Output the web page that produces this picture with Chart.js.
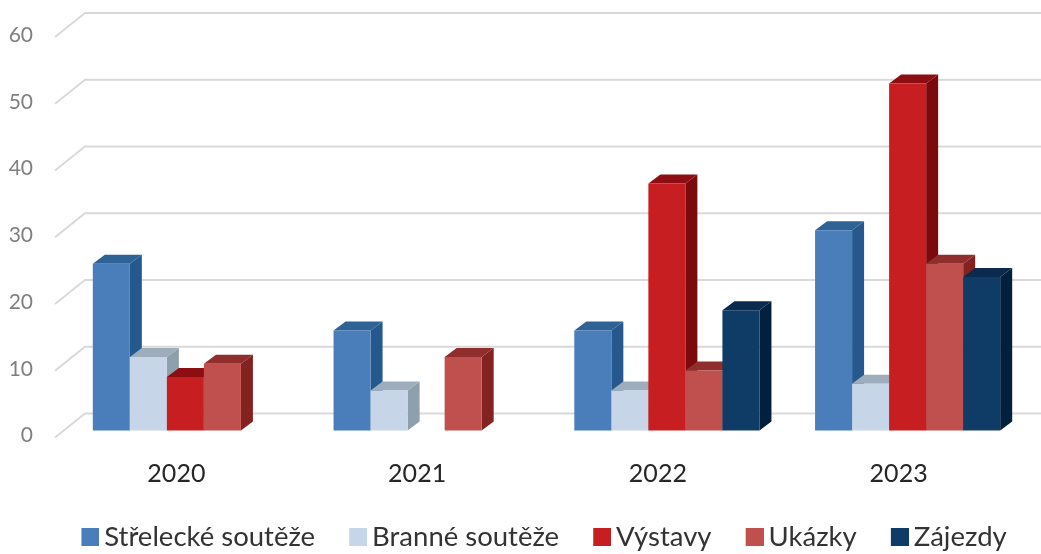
<!DOCTYPE html>
<html><head><meta charset="utf-8">
<style>html,body{margin:0;padding:0;background:#fff}canvas{display:block}</style>
<script src="https://cdn.jsdelivr.net/npm/chart.js@4"></script>
</head><body><canvas id="c" width="1041" height="554"></canvas>
<script>
const categories = ['2020','2021','2022','2023'];
const strelecke = [25,15,15,30];
const branne = [11,6,6,7];
const vystavy = [8,null,37,52];
const ukazky = [10,11,9,25];
const zajezdy = [null,null,18,23];
const yTicks = [0,10,20,30,40,50,60];
const names = ['Střelecké soutěže','Branné soutěže','Výstavy','Ukázky','Zájezdy'];
const frontColors = ['#4a7ebb','#c6d6e8','#c71e22','#c0504d','#0f3c66'];
const sideColors = ['#25588d','#8e9fae','#7b0a0c','#84221f','#031f3e'];
const topColors = ['#2f6295','#9dadbb','#8c0e12','#8f2e2c','#0a2b4d'];

const DX = 12, DY = 9;           // extrusion of each bar
const WX = 30, WY = 17;          // floor/wall offset relative to the front plane
const LEGEND_SHIFT = 30;
function swatch(color){
  const k = document.createElement('canvas'); k.width = 27; k.height = 18;
  const g = k.getContext('2d'); g.fillStyle = color; g.fillRect(9,0,18,18); return k;
}
const depth3d = {
  id:'depth3d',
  afterLayout(chart){ chart.legend.left += LEGEND_SHIFT; chart.legend.right += LEGEND_SHIFT; },
  beforeDatasetsDraw(chart){
    const {ctx, scales:{y}, width} = chart;
    ctx.save(); ctx.strokeStyle = '#d9d9d9'; ctx.lineWidth = 2;
    yTicks.forEach(v=>{
      const py = y.getPixelForValue(v);
      const xa = y.right - 10, ya = py + 7, xb = xa + WX;
      ctx.beginPath(); ctx.moveTo(xa, ya); ctx.lineTo(xb, py - WY); ctx.lineTo(width, py - WY); ctx.stroke();
    });
    ctx.restore();
  },
  beforeDatasetDraw(){ return false; },
  afterDatasetsDraw(chart){
    const {ctx} = chart;
    chart.data.datasets.forEach((ds,i)=>{
      const meta = chart.getDatasetMeta(i);
      meta.data.forEach((el,j)=>{
        if (ds.data[j] == null) return;
        const {x,y,base,width} = el.getProps(['x','y','base','width'], true);
        const l = x - width/2, r = x + width/2;
        ctx.fillStyle = sideColors[i];
        ctx.beginPath(); ctx.moveTo(r,y); ctx.lineTo(r+DX,y-DY); ctx.lineTo(r+DX,base-DY); ctx.lineTo(r,base); ctx.closePath(); ctx.fill();
        ctx.fillStyle = topColors[i];
        ctx.beginPath(); ctx.moveTo(l,y); ctx.lineTo(l+DX,y-DY); ctx.lineTo(r+DX,y-DY); ctx.lineTo(r,y); ctx.closePath(); ctx.fill();
        el.draw(ctx);
      });
    });
  }
};
const series = [strelecke,branne,vystavy,ukazky,zajezdy];
new Chart(document.getElementById('c'),{
  type:'bar',
  data:{labels:categories,datasets:series.map((d,i)=>({
    label:names[i],data:d,backgroundColor:frontColors[i],pointStyle:swatch(frontColors[i]),borderWidth:0
  }))},
  plugins:[depth3d],
  options:{
    responsive:false,animation:false,
    layout:{padding:{top:30,right:13,bottom:-7,left:0}},
    datasets:{bar:{categoryPercentage:0.769,barPercentage:1}},
    plugins:{
      tooltip:{enabled:false},
      legend:{position:'bottom',labels:{
        usePointStyle:true,pointStyleWidth:9.25,boxHeight:18,padding:34,
        color:'#333333',font:{family:'Lato',size:27.5}
      }}
    },
    scales:{
      x:{
        grid:{display:false,drawTicks:false},border:{display:false},
        afterFit(s){s.height=59;},
        ticks:{padding:28,labelOffset:-9,maxRotation:0,color:'#262626',font:{family:'Lato',size:25}}
      },
      y:{
        min:0,max:60,
        grid:{display:false,drawTicks:false},border:{display:false},
        afterFit(s){s.width=65;s.paddingTop=0;s.paddingBottom=0;},
        ticks:{stepSize:10,padding:32,labelOffset:5,color:'#7f7f7f',font:{family:'Lato',size:21}}
      }
    }
  }
});
</script></body></html>
